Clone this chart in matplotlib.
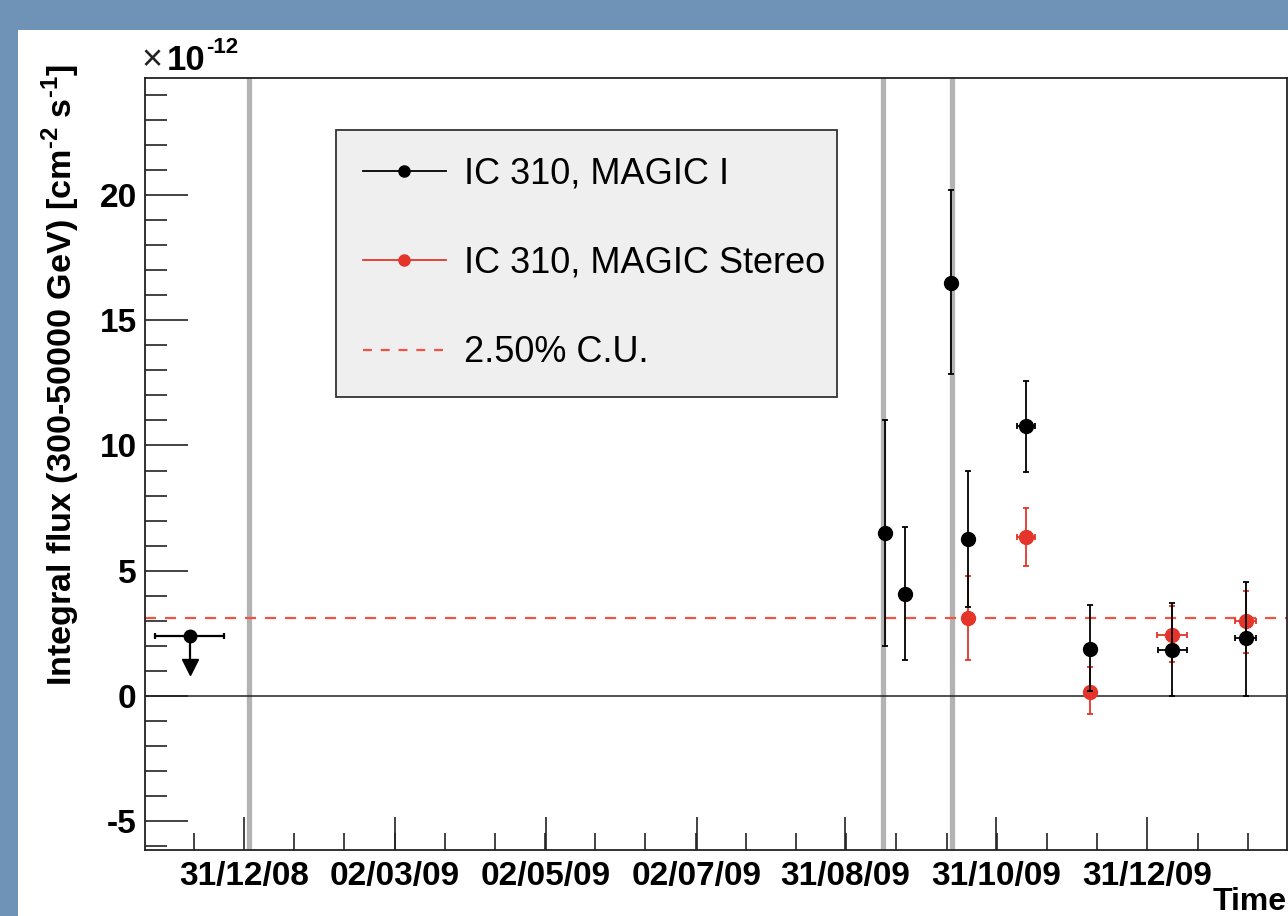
import numpy as np
import matplotlib
matplotlib.use("Agg")
import matplotlib.pyplot as plt
import matplotlib.dates as mdates
import matplotlib.patches as mpatches
import matplotlib.lines as mlines
from datetime import datetime

plt.rcParams['font.family'] = ['Liberation Sans', 'DejaVu Sans']
plt.rcParams['axes.unicode_minus'] = False
plt.rcParams['mathtext.fontset'] = 'custom'
plt.rcParams['mathtext.bf'] = 'Liberation Sans:bold'

# data (flux in units of 1e-12 cm^-2 s^-1, x errors in days)
m1_dates = ['2009-09-16', '2009-09-24', '2009-10-12 18:00', '2009-10-19 10:00',
            '2009-11-12', '2009-12-08', '2010-01-10', '2010-02-08 16:00']
m1_flux = [6.5, 4.08, 16.5, 6.27, 10.79, 1.89, 1.84, 2.3]
m1_up = [11.0, 6.76, 20.2, 8.97, 12.59, 3.63, 3.71, 4.56]
m1_lo = [2.0, 1.44, 12.85, 3.57, 8.94, 0.2, 0.0, 0.0]
m1_xerr = [0, 0, 0, 0, 3.7, 0, 5.9, 4.2]

st_dates = ['2009-10-19 10:00', '2009-11-12', '2009-12-08', '2010-01-10', '2010-02-08 16:00']
st_flux = [3.1, 6.35, 0.17, 2.45, 2.98]
st_up = [4.78, 7.49, 1.15, 3.6, 4.2]
st_lo = [1.44, 5.2, -0.72, 1.37, 1.73]
st_xerr = [0, 3.7, 0, 6.2, 4.2]

ul_date = '2008-12-09'
ul_flux = 2.4
ul_arrow_to = 1.15
ul_xerr = 14.0

cu_level = 3.11
gray_dates = ['2009-01-02', '2009-09-15', '2009-10-13']

major_dates = ['2008-12-31', '2009-03-02', '2009-05-02', '2009-07-02',
               '2009-08-31', '2009-10-31', '2009-12-31']
xlim_dates = ['2008-11-21', '2010-02-25 10:00']

def dnum(ds):
    return mdates.date2num([datetime.fromisoformat(d) for d in ds])

fig = plt.figure(figsize=(12.88, 9.16), dpi=100)
fig.patch.set_facecolor('#6f93b6')
fig.patches.append(mpatches.Rectangle((18/1288, 0), 1, (916-30)/916, transform=fig.transFigure,
                                      facecolor='white', edgecolor='none', zorder=-10))

ax = fig.add_axes([145/1288, 66/916, 1142/1288, 772/916])

for x in dnum(gray_dates):
    ax.axvline(x, color='#b3b3b3', lw=3.8, zorder=1)
ax.axhline(0, color='#222222', lw=1.1, zorder=1)
ax.axhline(cu_level, color='#ee5344', lw=1.6, ls=(0, (5, 4)), zorder=2)

x1 = dnum(m1_dates)
f1 = np.array(m1_flux)
ax.errorbar(x1, f1, yerr=[f1 - np.array(m1_lo), np.array(m1_up) - f1], xerr=m1_xerr,
            fmt='o', color='black', ms=10, elinewidth=1.3, capsize=2.5, capthick=1.3, zorder=4)

x2 = dnum(st_dates)
f2 = np.array(st_flux)
ax.errorbar(x2, f2, yerr=[f2 - np.array(st_lo), np.array(st_up) - f2], xerr=st_xerr,
            fmt='o', color='#e5352a', ecolor='#e5352a', ms=10, elinewidth=1.3, capsize=2.5,
            capthick=1.3, zorder=3)

# upper limit
xu = dnum([ul_date])[0]
ax.errorbar([xu], [ul_flux], xerr=ul_xerr, fmt='o', color='black', ms=9,
            elinewidth=1.6, capsize=2.5, capthick=1.6, zorder=4)
ax.plot([xu, xu], [ul_flux, ul_arrow_to], color='black', lw=1.6, zorder=4)
ax.plot([xu], [ul_arrow_to], marker='v', color='black', ms=12, zorder=4)

majors = dnum(major_dates)
step = np.mean(np.diff(majors)) / 3
minors = np.arange(majors[0] - 3 * step, dnum(xlim_dates)[1], step)
ax.set_xticks(majors)
ax.set_xticks(minors, minor=True)
ax.xaxis.set_major_formatter(mdates.DateFormatter('%d/%m/%y'))
ax.set_yticks([-5, 0, 5, 10, 15, 20])
ax.set_yticks(np.arange(-6, 25, 1), minor=True)
ax.set_xlim(dnum(xlim_dates))
ax.set_ylim(-6.15, 24.67)

ax.tick_params(axis='both', which='both', direction='in', top=False, right=False,
               width=1.2, color='#222222')
ax.tick_params(axis='y', which='major', length=31, labelsize=24, pad=6)
ax.tick_params(axis='y', which='minor', length=16)
ax.tick_params(axis='x', which='major', length=24, labelsize=24, pad=8)
ax.tick_params(axis='x', which='minor', length=12)
for lab in ax.get_xticklabels() + ax.get_yticklabels():
    lab.set_fontweight('bold')
for sp in ax.spines.values():
    sp.set_color('#222222')
    sp.set_linewidth(1.3)

ylab = 'Integral flux (300-50000 GeV) [cm$^{\\mathbf{\u2010}\\mathbf{2}}$ s$^{\\mathbf{\u2010}\\mathbf{1}}$]'
fig.text(61/1288, (916-375)/916, ylab, rotation=90, ha='center', va='center',
         fontsize=24.6, fontweight='bold')

ax.text(-0.003, 1.0104, '\u00d7', transform=ax.transAxes, ha='left', va='baseline',
        fontsize=26, color='#222222')
ax.text(0.019, 1.0104, '10', transform=ax.transAxes, ha='left', va='baseline',
        fontsize=25, fontweight='bold')
ax.text(0.0535, 1.033, '-12', transform=ax.transAxes, ha='left', va='baseline',
        fontsize=16, fontweight='bold')
ax.text(1.0, -0.078, 'Time', transform=ax.transAxes, ha='right', va='baseline',
        fontsize=23, fontweight='bold')

h1 = mlines.Line2D([], [], color='black', marker='o', ms=8, lw=1.3)
h2 = mlines.Line2D([], [], color='#e5352a', marker='o', ms=8, lw=1.3)
h3 = mlines.Line2D([], [], color='#ee5344', lw=1.6, ls=(0, (4, 4)))
leg = ax.legend([h1, h2, h3], ['IC 310, MAGIC I', 'IC 310, MAGIC Stereo', '2.50% C.U.'],
                loc='upper left', bbox_to_anchor=(0.167, 0.5, 0.439, 0.433), mode='expand',
                fontsize=26, frameon=True, fancybox=False, framealpha=1, handlelength=2.3,
                handletextpad=0.5, labelspacing=1.5, borderpad=0.75, borderaxespad=0)
leg.get_frame().set_facecolor('#efefef')
leg.get_frame().set_edgecolor('#333333')
leg.get_frame().set_linewidth(1.3)

fig.savefig('out.png', dpi=100, facecolor=fig.get_facecolor())
